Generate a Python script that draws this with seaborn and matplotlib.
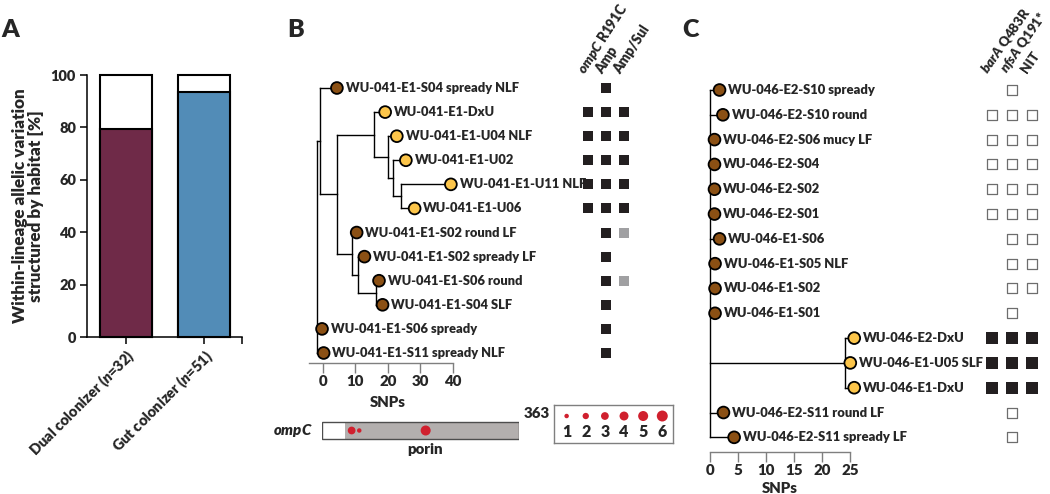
import numpy as np
import pandas as pd
import matplotlib
matplotlib.use("Agg")
import matplotlib.pyplot as plt
import seaborn as sns

# ------------------------------------------------------------------ data
# Panel A
a_groups = ["Dual colonizer", "Gut colonizer"]
a_n = [32, 51]
a_structured = [79.5, 93.5]
a_total = [100, 100]

# Panel B tree (tips in display order, SNP distance of each tip)
b_tip_names = ["WU-041-E1-S04 spready NLF", "WU-041-E1-DxU", "WU-041-E1-U04 NLF",
               "WU-041-E1-U02", "WU-041-E1-U11 NLF", "WU-041-E1-U06",
               "WU-041-E1-S02 round LF", "WU-041-E1-S02 spready LF", "WU-041-E1-S06 round",
               "WU-041-E1-S04 SLF", "WU-041-E1-S06 spready", "WU-041-E1-S11 spready NLF"]
b_tip_snps = [4.3, 19.2, 22.8, 25.6, 39.5, 28.3, 10.4, 12.8, 17.3, 18.4, -0.3, 0.2]
b_tip_site = ["stool", "urine", "urine", "urine", "urine", "urine",
              "stool", "stool", "stool", "stool", "stool", "stool"]
# internal nodes (post-order): name, SNP position, children
b_node_names = ["G", "F", "E", "C", "I", "H", "D", "B", "A", "root"]
b_node_snps = [24.0, 21.7, 20.1, 15.8, 16.4, 10.9, 8.9, 4.3, -0.9, -1.9]
b_node_children = [[4, 5], [3, "G"], [2, "F"], [1, "E"], [8, 9], [7, "I"], [6, "H"],
                   ["C", "D"], [0, "B"], ["A", 10, 11]]
b_columns = [r"$\mathit{ompC}$ R191C", "Amp", "Amp/Sul"]
# 0 = none, 1 = black (present), 2 = grey (intermediate)
b_marks = [[0, 1, 0], [1, 1, 1], [1, 1, 1], [1, 1, 1], [1, 1, 1], [1, 1, 1],
           [0, 1, 2], [0, 1, 0], [0, 1, 2], [0, 1, 0], [0, 1, 0], [0, 1, 0]]
b_snp_ticks = [0, 10, 20, 30, 40]

# ompC gene diagram
gene_length = 363
signal_end = 43
mut_positions = [55, 69, 191]
mut_counts = [3, 1, 5]
legend_counts = [1, 2, 3, 4, 5, 6]

# Panel C tree
c_tip_names = ["WU-046-E2-S10 spready", "WU-046-E2-S10 round", "WU-046-E2-S06 mucy LF",
               "WU-046-E2-S04", "WU-046-E2-S02", "WU-046-E2-S01", "WU-046-E1-S06",
               "WU-046-E1-S05 NLF", "WU-046-E1-S02", "WU-046-E1-S01", "WU-046-E2-DxU",
               "WU-046-E1-U05 SLF", "WU-046-E1-DxU", "WU-046-E2-S11 round LF",
               "WU-046-E2-S11 spready LF"]
c_tip_snps = [1.7, 2.3, 0.8, 0.8, 0.8, 0.8, 1.7, 0.9, 0.9, 0.9, 25.7, 25.0, 25.7, 2.4, 4.3]
c_tip_site = ["stool"] * 10 + ["urine"] * 3 + ["stool"] * 2
c_node_names = ["X", "root"]
c_node_snps = [24.1, 0.0]
c_node_children = [[10, 11, 12], [0, 1, 2, 3, 4, 5, 6, 7, 8, 9, "X", 13, 14]]
c_columns = [r"$\mathit{barA}$ Q483R", r"$\mathit{nfsA}$ Q191*", "NIT"]
# 0 = none, 1 = open square (absent), 2 = filled square (present)
c_marks = [[0, 1, 0], [1, 1, 1], [1, 1, 1], [1, 1, 1], [1, 1, 1], [1, 1, 1],
           [0, 1, 1], [0, 1, 1], [0, 1, 1], [0, 1, 0], [2, 2, 2], [2, 2, 2],
           [2, 2, 2], [0, 1, 0], [0, 1, 0]]
c_snp_ticks = [0, 5, 10, 15, 20, 25]

# ------------------------------------------------------------------ style
WT = "heavy"
sns.set_theme(style="ticks")
plt.rcParams["font.family"] = ["Lato", "DejaVu Sans"]
plt.rcParams["font.weight"] = WT
plt.rcParams["axes.labelweight"] = WT
plt.rcParams["mathtext.fontset"] = "custom"
plt.rcParams["mathtext.it"] = "Lato:italic:heavy"
plt.rcParams["mathtext.rm"] = "Lato:heavy"
plt.rcParams["mathtext.bf"] = "Lato:heavy"

MAROON = "#7A1F46"
BLUE = "#418FC8"
BROWN = "#8B5014"
YELLOW = "#FCC54A"
DARK = "#231F20"
GREYSQ = "#A0A0A2"
RED = "#D0202E"
AXGREY = "#7F7F7F"

W, H = 1050, 494
fig = plt.figure(figsize=(W / 100, H / 100), dpi=100, facecolor="white")


def px_axes(l, r, t, b):
    return fig.add_axes([l / W, 1 - b / H, (r - l) / W, (b - t) / H])


# ------------------------------------------------------------------ Panel A
axA = px_axes(87, 242.5, 75, 337)
dfa = pd.DataFrame({"group": a_groups, "structured": a_structured, "total": a_total})
sns.barplot(data=dfa, x="group", y="total", color="white", edgecolor="black",
            linewidth=1.5, width=0.67, ax=axA, zorder=2)
sns.barplot(data=dfa, x="group", y="structured", hue="group", palette=[MAROON, BLUE],
            edgecolor="black", linewidth=1.5, width=0.67, legend=False, ax=axA, zorder=3)
for p in axA.patches:
    p.set_clip_on(False)
axA.set_xlim(-0.5, 1.5)
axA.set_ylim(0, 100)
axA.set_yticks([0, 20, 40, 60, 80, 100])
axA.set_xticks([0, 1])
axA.set_xticks([1.5], minor=True)
labels = [rf"{g} ($\mathit{{n}}$={n})" for g, n in zip(a_groups, a_n)]
axA.set_xticklabels(labels, rotation=45, ha="right", rotation_mode="anchor",
                    fontsize=10.8, fontweight=WT)
axA.tick_params(axis="both", which="both", length=5, width=1.1, color="black",
                direction="out", labelsize=10.5, pad=3)
axA.tick_params(axis="x", pad=2)
for s in ["top", "right"]:
    axA.spines[s].set_visible(False)
for s in ["left", "bottom"]:
    axA.spines[s].set_linewidth(1.1)
    axA.spines[s].set_color("black")
axA.set_xlabel("")
axA.set_ylabel("Within-lineage allelic variation\nstructured by habitat [%]",
               fontsize=12.3, linespacing=1.0, va="center", fontweight=WT)
axA.yaxis.set_label_coords(-0.38, 0.5)
for t in axA.get_yticklabels():
    t.set_fontweight(WT)


# ------------------------------------------------------------------ tree helper
def draw_tree(ax, tip_names, tip_snps, tip_site, node_names, node_snps, node_children,
              fontsize):
    pos = {i: (s, float(i)) for i, s in enumerate(tip_snps)}
    for name, s, ch in zip(node_names, node_snps, node_children):
        ys = [pos[c][1] for c in ch]
        for c in ch:
            ax.plot([s, pos[c][0]], [pos[c][1], pos[c][1]], color="black", lw=1.0,
                    solid_capstyle="projecting", zorder=1, clip_on=False)
        ax.plot([s, s], [min(ys), max(ys)], color="black", lw=1.0,
                solid_capstyle="projecting", zorder=1, clip_on=False)
        pos[name] = (s, (min(ys) + max(ys)) / 2)
    dft = pd.DataFrame({"snp": tip_snps, "row": np.arange(len(tip_snps)), "site": tip_site})
    sns.scatterplot(data=dft, x="snp", y="row", hue="site",
                    palette={"stool": BROWN, "urine": YELLOW}, s=72, edgecolor="black",
                    linewidth=1.3, legend=False, ax=ax, zorder=3, clip_on=False)
    for i, (s, nm) in enumerate(zip(tip_snps, tip_names)):
        ax.annotate(nm, (s, i), xytext=(6.3, 0), textcoords="offset points",
                    ha="left", va="center", fontsize=fontsize, fontweight=WT,
                    annotation_clip=False)
    for sp in ["top", "right", "left"]:
        ax.spines[sp].set_visible(False)
    ax.spines["bottom"].set_color(AXGREY)
    ax.spines["bottom"].set_linewidth(1.0)
    ax.set_yticks([])
    ax.tick_params(axis="x", length=7, width=1.0, color=AXGREY, direction="out",
                   labelsize=10.8, pad=2)
    for t in ax.get_xticklabels():
        t.set_fontweight(WT)
    ax.set_xlabel("")
    ax.set_ylabel("")
    ax.patch.set_alpha(0)


def draw_marks(ax, marks, style):
    rows, cols, kinds = [], [], []
    for r, line in enumerate(marks):
        for c, v in enumerate(line):
            if v:
                rows.append(r)
                cols.append(c)
                kinds.append(v)
    dfm = pd.DataFrame({"row": rows, "col": cols, "kind": kinds})
    for k, (face, edge, size, lw) in style.items():
        sub = dfm[dfm["kind"] == k]
        if len(sub):
            sns.scatterplot(data=sub, x="col", y="row", marker="s", s=size, color=face,
                            edgecolor=edge, linewidth=lw, ax=ax, legend=False,
                            clip_on=False, zorder=3)
    ax.set_xlim(-0.5, 2.5)
    ax.axis("off")


# ------------------------------------------------------------------ Panel B
b_scale = 3.2375
b_row = 24.09
axB = px_axes(305, 560, 76, 362.7)
axB.set_xlim((305 - 323) / b_scale, (560 - 323) / b_scale)
axB.set_ylim((362.7 - 88) / b_row, (76 - 88) / b_row)
axB.spines["bottom"].set_bounds(-4.3, max(b_snp_ticks))
axB.set_xticks(b_snp_ticks)
draw_tree(axB, b_tip_names, b_tip_snps, b_tip_site, b_node_names, b_node_snps,
          b_node_children, fontsize=9.3)
axB.annotate("SNPs", xy=(np.mean(b_snp_ticks), 0), xycoords=("data", "axes fraction"),
             xytext=(0, -29), textcoords="offset points", ha="center", va="center",
             fontsize=10.8, fontweight=WT, annotation_clip=False)

axBg = px_axes(579.3, 633.3, 76, 362.7)
draw_marks(axBg, b_marks, {1: (DARK, DARK, 62, 0.0), 2: (GREYSQ, GREYSQ, 62, 0.0)})
axBg.set_ylim(axB.get_ylim())
for i, lab in enumerate(b_columns):
    axBg.annotate(lab, xy=(i, axB.get_ylim()[1]), xytext=(-2.5, 1), textcoords="offset points",
                  rotation=57, rotation_mode="anchor", ha="left", va="baseline",
                  fontsize=9.8, fontweight=WT, annotation_clip=False)

# ompC gene diagram
axG = px_axes(321.7, 519.3, 415, 446)
axG.barh([0], [gene_length - signal_end], left=[signal_end], height=1.135,
         color="#B3AFAE", edgecolor="none", zorder=1)
axG.barh([0], [gene_length], left=[0], height=1.135, color="none",
         edgecolor="#4D4D4D", linewidth=1.0, zorder=2)
dfg = pd.DataFrame({"pos": mut_positions, "y": [0] * len(mut_positions), "n": mut_counts})
sns.scatterplot(data=dfg, x="pos", y="y", size="n", sizes=(10.4 * 1, 10.4 * 6),
                size_norm=(1, 6), color=RED, edgecolor="none", linewidth=0,
                legend=False, ax=axG, zorder=3)
axG.set_xlim(0, gene_length)
axG.set_ylim(-1, 1)
axG.axis("off")
axG.text(-0.045, 0.5, r"$\mathit{ompC}$", transform=axG.transAxes, ha="right",
         va="center", fontsize=10.8)
axG.text(190, -1.25, "porin", ha="center", va="center", fontsize=10.8, fontweight=WT)
axG.annotate(str(gene_length), xy=(gene_length, 1), xytext=(3, 1), textcoords="offset points",
             ha="left", va="center", fontsize=10.8, fontweight=WT, annotation_clip=False)

# size legend
axL = px_axes(554, 673, 405, 443)
dfl = pd.DataFrame({"x": np.arange(len(legend_counts)), "y": [0.71] * len(legend_counts),
                    "n": legend_counts})
sns.scatterplot(data=dfl, x="x", y="y", size="n", sizes=(10.4 * 1, 10.4 * 6),
                size_norm=(1, 6), color=RED, edgecolor="none", linewidth=0,
                legend=False, ax=axL)
for i, n in enumerate(legend_counts):
    axL.text(i, 0.29, str(n), ha="center", va="center", fontsize=11.5, fontweight=WT)
axL.set_xlim(-0.66, 5.56)
axL.set_ylim(0, 1)
axL.set_xticks([])
axL.set_yticks([])
axL.set_xlabel("")
axL.set_ylabel("")
for sp in axL.spines.values():
    sp.set_visible(True)
    sp.set_color(AXGREY)
    sp.set_linewidth(1.0)

# ------------------------------------------------------------------ Panel C
c_scale = 5.612
c_row = 24.81
axC = px_axes(700, 975, 78, 451.7)
axC.set_xlim((700 - 710) / c_scale, (975 - 710) / c_scale)
axC.set_ylim((451.7 - 90) / c_row, (78 - 90) / c_row)
axC.spines["bottom"].set_bounds(0, max(c_snp_ticks))
axC.set_xticks(c_snp_ticks)
draw_tree(axC, c_tip_names, c_tip_snps, c_tip_site, c_node_names, c_node_snps,
          c_node_children, fontsize=9.4)
axC.annotate("SNPs", xy=(np.mean(c_snp_ticks), 0), xycoords=("data", "axes fraction"),
             xytext=(0, -26.5), textcoords="offset points", ha="center", va="center",
             fontsize=10.8, fontweight=WT, annotation_clip=False)

axCg = px_axes(982.45, 1041.55, 78, 451.7)
draw_marks(axCg, c_marks, {1: ("white", "#6D6D6D", 58, 0.9), 2: (DARK, DARK, 70, 0.0)})
axCg.set_ylim(axC.get_ylim())
for i, lab in enumerate(c_columns):
    axCg.annotate(lab, xy=(i, axC.get_ylim()[1]), xytext=(-3.5, 3), textcoords="offset points",
                  rotation=55, rotation_mode="anchor", ha="left", va="baseline",
                  fontsize=9.6, fontweight=WT, annotation_clip=False)

# ------------------------------------------------------------------ panel letters
for letter, x in [("A", 1), ("B", 287), ("C", 682)]:
    fig.text(x / W, 1 - 37 / H, letter, fontsize=18, fontweight=WT, ha="left",
             va="baseline")

fig.savefig("out.png", dpi=100, facecolor="white")
